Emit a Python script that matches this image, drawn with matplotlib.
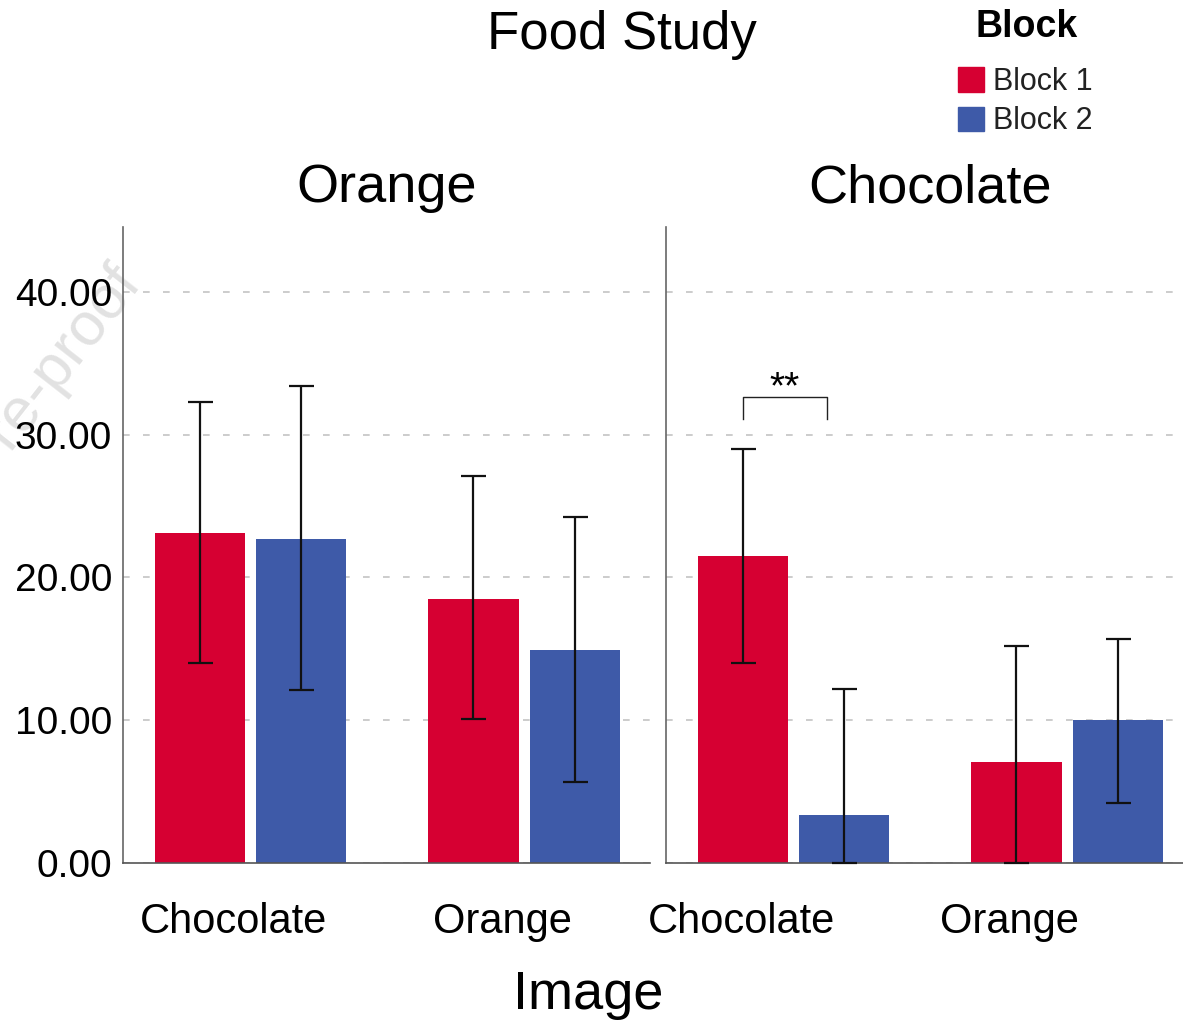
import matplotlib
matplotlib.use('Agg')
import matplotlib.pyplot as plt
import matplotlib.patches as mpatches
import numpy as np

plt.rcParams['font.family'] = ['Liberation Sans', 'DejaVu Sans']

images = ['Chocolate', 'Orange']          # x categories
panels = ['Orange', 'Chocolate']          # facet titles
blocks = ['Block 1', 'Block 2']
colors = ['#D60032', '#3E5AA8']

# mean per panel -> [block1, block2] over images
mean_b1 = {'Orange': [23.1, 18.5], 'Chocolate': [21.5, 7.1]}
mean_b2 = {'Orange': [22.7, 14.9], 'Chocolate': [3.4, 10.0]}
low_b1 = {'Orange': [14.0, 10.1], 'Chocolate': [14.0, 0.0]}
low_b2 = {'Orange': [12.1, 5.7], 'Chocolate': [0.0, 4.2]}
high_b1 = {'Orange': [32.3, 27.1], 'Chocolate': [29.0, 15.2]}
high_b2 = {'Orange': [33.4, 24.2], 'Chocolate': [12.2, 15.7]}

yticks = [0, 10, 20, 30, 40]

fig = plt.figure(figsize=(11.83, 10.24), dpi=100)
ax_pos = [[0.104, 0.157, 0.4455, 0.621], [0.563, 0.157, 0.4455, 0.621]]
tick_shift = [[-0.06, -0.08], [-0.19, -0.21]]

off = 0.185
width = 0.33
x = np.arange(len(images))

# watermark (behind everything)
fig.text(0.121, 0.722, 'Journal Pre-proof', ha='right', va='baseline', rotation=52,
         rotation_mode='anchor', fontsize=44, color='#e2e2e2', zorder=-5)

for k, p in enumerate(panels):
    ax = fig.add_axes(ax_pos[k])
    for j, (m, lo, hi) in enumerate([(mean_b1, low_b1, high_b1), (mean_b2, low_b2, high_b2)]):
        xs = x + (j - 0.5) * 2 * off
        vals = np.array(m[p])
        err = [vals - np.array(lo[p]), np.array(hi[p]) - vals]
        ax.bar(xs, vals, width=width, color=colors[j], zorder=2)
        ax.errorbar(xs, vals, yerr=err, fmt='none', ecolor='#111111',
                    elinewidth=1.6, capsize=9, capthick=1.6, zorder=3, clip_on=False)
    ax.set_xlim(-0.465, 1.46)
    ax.set_ylim(0, 44.5)
    ax.set_yticks(yticks)
    ax.yaxis.grid(True, linestyle=(0, (4, 8)), color='#c4c4c4', linewidth=1.2, zorder=0)
    ax.set_axisbelow(True)
    ax.set_xticks(x + np.array(tick_shift[k]))
    ax.set_xticklabels(images, fontsize=30)
    ax.tick_params(axis='x', length=0, pad=28)
    ax.tick_params(axis='y', length=0, pad=8, labelsize=28)
    if k == 0:
        ax.set_yticklabels(['%.2f' % v for v in yticks])
    else:
        ax.set_yticklabels([])
    for s in ['top', 'right']:
        ax.spines[s].set_visible(False)
    ax.spines['left'].set_color('#666666')
    ax.spines['bottom'].set_color('#555555')
    ax.spines['left'].set_linewidth(1.2)
    ax.spines['bottom'].set_linewidth(1.2)
    ax.set_title(p, fontsize=39, pad=18)
    ax.set_facecolor('none')

    if p == 'Chocolate':
        # significance bracket between block 1 and block 2 for Chocolate image
        xl = x[0] - off
        xr = x[0] + 0.123
        ax.plot([xl, xl, xr, xr], [31.1, 32.6, 32.6, 31.1], color='#222222',
                linewidth=1.0, clip_on=False)
        ax.text((xl + xr) / 2, 32.0, '**', ha='center', va='bottom', fontsize=28)

fig.text(0.526, 0.966, 'Food Study', ha='center', va='center', fontsize=38)
fig.text(0.497, 0.028, 'Image', ha='center', va='center', fontsize=39)

# legend
fig.text(0.868, 0.9736, 'Block', ha='center', va='center', fontsize=27, fontweight='bold')
handles = [mpatches.Patch(color=c) for c in colors]
leg = fig.legend(handles, blocks, loc='upper left', bbox_to_anchor=(0.8098, 0.9346),
                 frameon=False, fontsize=22,
                 handlelength=0.85, handleheight=0.85, handletextpad=0.3,
                 labelspacing=0.31, borderpad=0, borderaxespad=0)
for t in leg.get_texts():
    t.set_color('#222222')

plt.savefig('out.png', dpi=100)
